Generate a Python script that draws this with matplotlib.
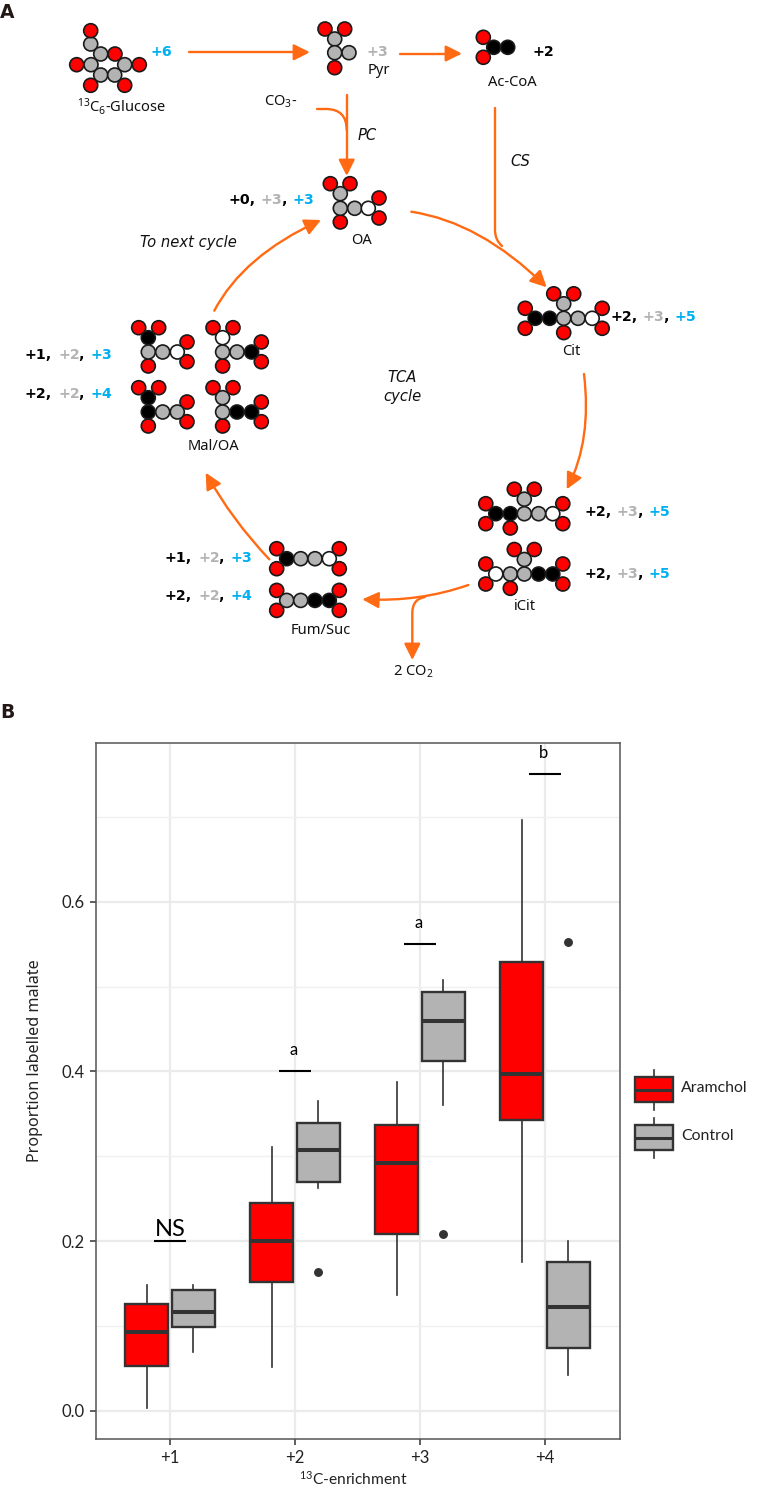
import matplotlib
matplotlib.use('Agg')
import matplotlib.pyplot as plt
from matplotlib.patches import Circle, FancyArrowPatch, Rectangle
from matplotlib.path import Path

W = 764
H = 1497

plt.rcParams['font.family'] = ['Noto Sans', 'DejaVu Sans']
plt.rcParams['mathtext.default'] = 'regular'
NARROW = ['Lato', 'Noto Sans']
BOLD = ['DejaVu Sans']

# boxplot data: whisker low, Q1, median, Q3, whisker high
categories = ['+1', '+2', '+3', '+4']
aramchol_low = [0.004, 0.052, 0.137, 0.176]
aramchol_q1 = [0.053, 0.152, 0.209, 0.343]
aramchol_med = [0.093, 0.200, 0.292, 0.397]
aramchol_q3 = [0.126, 0.245, 0.337, 0.529]
aramchol_high = [0.149, 0.311, 0.388, 0.696]
aramchol_out = [[], [], [], []]

control_low = [0.070, 0.263, 0.360, 0.042]
control_q1 = [0.099, 0.270, 0.412, 0.074]
control_med = [0.117, 0.308, 0.460, 0.123]
control_q3 = [0.142, 0.339, 0.494, 0.175]
control_high = [0.149, 0.365, 0.508, 0.200]
control_out = [[], [0.164], [0.209], [0.553]]

sig_levels = [0.2, 0.4, 0.55, 0.75]
sig_labels = ['NS', 'a', 'a', 'b']

ORANGE = '#FF6A13'
BLUE = '#00B0F0'
GREY = '#B3B3B3'
RED = '#FF0000'
C = '#B3B3B3'
K = '#000000'
N = '#FFFFFF'
EDGE = '#333333'

fig = plt.figure(figsize=(W / 100, H / 100), dpi=100)

# ---- panel B ----
left, right, top, bottom = 96, 620, 743, 1439
ax = fig.add_axes([left / W, 1 - bottom / H, (right - left) / W, (bottom - top) / H])
ax.set_xlim(0.408, 4.6)
ax.set_ylim(-0.033, 0.787)
ax.set_axisbelow(True)
ax.set_xticks([1, 2, 3, 4])
ax.set_xticklabels(categories, fontsize=12, family=NARROW)
ax.set_yticks([0.0, 0.2, 0.4, 0.6])
ax.set_yticklabels(['0.0', '0.2', '0.4', '0.6'], fontsize=12, family=NARROW)
ax.set_yticks([0.1, 0.3, 0.5, 0.7], minor=True)
ax.tick_params(axis='both', which='major', length=4, width=1.1, color='#333333', labelcolor='#222222', pad=4)
ax.tick_params(axis='y', which='minor', length=0)
ax.grid(True, which='major', color='#EBEBEB', lw=1.6)
ax.grid(True, which='minor', axis='y', color='#F0F0F0', lw=1.0)
for s in ax.spines.values():
    s.set_color('#555555')
    s.set_linewidth(1.1)


def make_stats(low, q1, med, q3, high, out):
    stats = []
    for i in range(len(low)):
        stats.append({'whislo': low[i], 'q1': q1[i], 'med': med[i], 'q3': q3[i],
                      'whishi': high[i], 'fliers': out[i]})
    return stats


def draw_boxes(stats, positions, color):
    ax.bxp(stats, positions=positions, widths=0.3375, patch_artist=True, showcaps=False,
           manage_ticks=False,
           boxprops=dict(facecolor=color, edgecolor=EDGE, linewidth=1.7),
           medianprops=dict(color=EDGE, linewidth=2.9, solid_capstyle='butt'),
           whiskerprops=dict(color=EDGE, linewidth=1.2),
           flierprops=dict(marker='o', markerfacecolor=EDGE, markeredgecolor=EDGE, markersize=5.4))


draw_boxes(make_stats(aramchol_low, aramchol_q1, aramchol_med, aramchol_q3, aramchol_high, aramchol_out),
           [i + 1 - 0.1875 for i in range(4)], RED)
draw_boxes(make_stats(control_low, control_q1, control_med, control_q3, control_high, control_out),
           [i + 1 + 0.1875 for i in range(4)], C)

for i in range(4):
    ax.plot([i + 1 - 0.125, i + 1 + 0.125], [sig_levels[i]] * 2, color='black', lw=1.5, solid_capstyle='butt')
    if sig_labels[i] == 'NS':
        ax.annotate('NS', (i + 1, sig_levels[i]), xytext=(0, 1), textcoords='offset points',
                    ha='center', va='bottom', fontsize=17, family=NARROW)
    else:
        ax.annotate(sig_labels[i], (i + 1 - 0.01, sig_levels[i]), xytext=(0, 9.5), textcoords='offset points',
                    ha='center', va='bottom', fontsize=12, family=NARROW, clip_on=False)

# ---- overlay in pixel coordinates for panel A and the legend ----
ov = fig.add_axes([0, 0, 1, 1], facecolor='none')
ov.set_xlim(0, W)
ov.set_ylim(H, 0)
ov.axis('off')

ov.text(353, 1479, '$^{13}$C-enrichment', ha='center', va='center', fontsize=11.2, family=NARROW, color='#222222')
ov.text(35, 1061, 'Proportion labelled malate', rotation=90, ha='center', va='center', fontsize=11.6, color='#222222')

# legend keys
for cy, col, name in [(1089.5, RED, 'Aramchol'), (1137.5, C, 'Control')]:
    ov.plot([654, 654], [cy - 20, cy + 20], color=EDGE, lw=1.2, zorder=2)
    ov.add_patch(Rectangle((635, cy - 12.5), 38, 25, fc=col, ec=EDGE, lw=1.7, zorder=3))
    ov.plot([635, 673], [cy, cy], color=EDGE, lw=2.2, solid_capstyle='butt', zorder=4)
    ov.text(681, cy - 1, name, ha='left', va='center', fontsize=11.4, family=NARROW, color='#222222')


def atoms(items, dx=0, dy=0):
    for (x, y, col) in items:
        ov.add_patch(Circle((x + dx, y + dy), 7.0, fc=col, ec='#1A1A1A', lw=1.2, zorder=5))


atoms([(90.7, 44, C), (100.7, 54, C), (91, 64.7, C), (124.7, 64.7, C), (100.7, 75, C), (114.7, 75, C),
       (90.7, 30.7, RED), (115, 54, RED), (76.7, 64.7, RED), (139.3, 64.7, RED), (90.7, 85.3, RED), (124.7, 85.3, RED)])
atoms([(325, 29, RED), (344.7, 29, RED), (334.7, 67.7, RED), (334.7, 39, C), (334.7, 52.7, C), (349, 52.7, C)])
atoms([(483.3, 37.3, RED), (483.3, 57.3, RED), (493.7, 47.3, K), (507.7, 47.3, K)])
atoms([(330.3, 183.7, RED), (350, 183.7, RED), (340.3, 222, RED), (379, 198, RED), (379, 218, RED),
       (340.3, 193.7, C), (340.3, 208.3, C), (354.7, 208.3, C), (368.3, 208.3, N)])


def six_carbon(col1, col2, col3, col4, col5, cx, cy, midx):
    # tricarboxylate shape used for Cit and iCit
    atoms([(cx - 10, cy - 24.5, RED), (cx + 10, cy - 24.5, RED),
           (cx - 38.5, cy - 10, RED), (cx - 38.5, cy + 10, RED),
           (cx + 38.5, cy - 10, RED), (cx + 38.5, cy + 10, RED),
           (midx, cy + 14.3, RED), (cx, cy - 14.5, C),
           (cx - 28.5, cy, col1), (cx - 14, cy, col2), (cx, cy, col3),
           (cx + 14.3, cy, col4), (cx + 28.5, cy, col5)])


six_carbon(K, K, C, C, N, 563.7, 318.3, 563.7)
six_carbon(K, K, C, C, N, 524.3, 513.7, 510.3)
six_carbon(N, C, C, K, K, 524.3, 574, 510.3)


def malate(top_col, col1, col2, col3, dx, dy):
    atoms([(138.7, 327.7, RED), (158.7, 327.7, RED), (187, 342, RED), (187, 361.7, RED), (148.3, 366, RED),
           (148.3, 337.7, top_col), (148.3, 352, col1), (162.7, 352, col2), (177.3, 352, col3)], dx, dy)


malate(K, C, C, N, 0, 0)
malate(N, C, C, K, 74.3, 0)
malate(K, K, C, C, 0, 60)
malate(C, C, K, K, 74.3, 60)


def fumarate(col1, col2, col3, col4, dy):
    atoms([(276.7, 548.7, RED), (276.7, 568.7, RED), (339.3, 548.7, RED), (339.3, 568.7, RED),
           (286.7, 558.7, col1), (300.7, 558.7, col2), (315, 558.7, col3), (329.3, 558.7, col4)], 0, dy)


fumarate(K, C, C, N, 0)
fumarate(C, C, K, K, 41.7)

ARROW = '-|>,head_length=0.7,head_width=0.35'


def arrow(verts, codes):
    ov.add_patch(FancyArrowPatch(path=Path(verts, codes), arrowstyle=ARROW, mutation_scale=14,
                                 color=ORANGE, lw=1.7, shrinkA=0, shrinkB=0, zorder=4))


def line(verts, codes):
    ov.add_patch(FancyArrowPatch(path=Path(verts, codes), arrowstyle='-', color=ORANGE, lw=1.7, zorder=4))


def straight(p0, p1):
    arrow([p0, p1], [Path.MOVETO, Path.LINETO])


def curved(p0, c, p1):
    arrow([p0, c, p1], [Path.MOVETO, Path.CURVE3, Path.CURVE3])


straight((188.5, 52.3), (310, 52.3))
straight((399.5, 53.5), (462, 53.5))
straight((346.7, 95), (346.7, 176))
line([(317, 109), (326, 109), (346.7, 109), (346.7, 130)],
     [Path.MOVETO, Path.LINETO, Path.CURVE3, Path.CURVE3])
curved((411.3, 211.7), (480, 222), (546.7, 287.3))
line([(495, 108), (495, 230), (495, 240), (502, 246)],
     [Path.MOVETO, Path.LINETO, Path.CURVE3, Path.CURVE3])
curved((584, 374), (592, 440), (566.7, 489.3))
curved((468.3, 585), (420, 602), (362.3, 599.3))
arrow([(425, 597), (412.3, 599), (412.3, 613), (412.3, 660)],
      [Path.MOVETO, Path.CURVE3, Path.CURVE3, Path.LINETO])
curved((269.3, 559.3), (232, 520), (205.7, 472.7))
curved((214.3, 310.7), (243, 256), (321, 220))

ov.text(0, 13, 'A', fontsize=13.5, fontweight='bold', family=BOLD, color='#231815', ha='left', va='center')
ov.text(0, 712, 'B', fontsize=13.5, fontweight='bold', family=BOLD, color='#231815', ha='left', va='center')


def label(x, y, s, col):
    ov.text(x, y, s, color=col, fontsize=10.2, fontweight='bold', family=BOLD, ha='left', va='center')


def triple(x, y, a, b, c):
    label(x, y, '+%d,' % a, K)
    label(x + 33, y, '+%d' % b, GREY)
    label(x + 53, y, ',', K)
    label(x + 65, y, '+%d' % c, BLUE)


label(150, 52, '+6', BLUE)
label(367, 52, '+3', GREY)
label(532, 52, '+2', K)
triple(228, 200.5, 0, 3, 3)
triple(610, 317, 2, 3, 5)
triple(584, 511.5, 2, 3, 5)
triple(584, 574.5, 2, 3, 5)
triple(25, 355, 1, 2, 3)
triple(25, 394, 2, 2, 4)
triple(165, 558, 1, 2, 3)
triple(165, 596.5, 2, 2, 4)

names = [('$^{13}$C$_{6}$-Glucose', 121, 107), ('Pyr', 379, 71), ('Ac-CoA', 512.7, 82.5),
         ('CO$_{3}$-', 281, 102), ('OA', 362, 241), ('Cit', 571, 351.5),
         ('iCit', 524.7, 606), ('Mal/OA', 213, 446.5), ('Fum/Suc', 321, 630), ('2 CO$_{2}$', 413, 672)]
for (s, x, y) in names:
    ov.text(x, y, s, ha='center', va='center', fontsize=10.6, color='#111111')

italics = [('PC', 367, 135), ('CS', 520, 162), ('To next cycle', 188, 243), ('TCA', 402, 377), ('cycle', 402, 397)]
for (s, x, y) in italics:
    ov.text(x, y, s, ha='center', va='center', fontsize=10.6, style='italic', family=BOLD, color='#111111')

fig.savefig('out.png', dpi=100)
